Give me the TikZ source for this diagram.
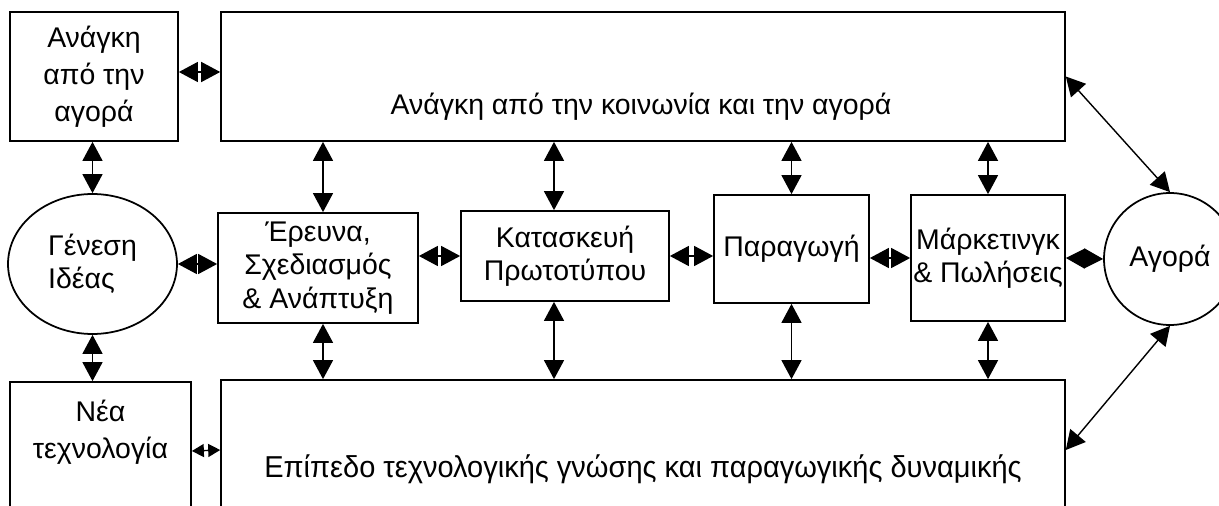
\documentclass[tikz,border=0pt]{standalone}
\usepackage{fontspec}
\setmainfont{Liberation Sans}
\newfontfamily\narrowfont{Liberation Sans}[FakeStretch=0.96]
\usetikzlibrary{shapes,arrows.meta,positioning}
\tikzset{box/.style={draw,line width=1pt,align=center,inner sep=0pt},
	oval/.style={draw,ellipse,line width=1pt,inner sep=0pt},
	>={Triangle[length=0.38cm,width=0.4cm]}}

\begin{document}
\begin{tikzpicture}[x=0.02cm,y=-0.02cm,font=\fontsize{16.2}{19}\selectfont,line width=0.8pt]
	\useasboundingbox (0,0) rectangle (1219,506);
	\clip (0,0) rectangle (1219,506);
	\node[box,minimum width=3.36cm,minimum height=2.58cm,font=\fontsize{16.2}{21}\selectfont] (1) at (94,76.5) {Ανάγκη\\από την\\αγορά};
	\node[box,minimum width=16.88cm,minimum height=2.58cm] (2) at (643,76.5) {};
	\node (2t) at (641,107) {Ανάγκη από την κοινωνία και την αγορά};
	\node[oval,minimum width=3.38cm,minimum height=2.8cm,align=left] (3) at (92.5,264) {Γένεση\\Ιδέας};
	\node[box,minimum width=4cm,minimum height=2.2cm] (4) at (318,268) {Έρευνα,\\Σχεδιασμός\\\& Ανάπτυξη};
	\node[box,minimum width=4.16cm,minimum height=1.8cm] (5) at (565,256) {Κατασκευή\\Πρωτοτύπου};
	\node[box,minimum width=3.1cm,minimum height=2.16cm] (6) at (791.5,249) {Παραγωγή};
	\node[box,minimum width=3.08cm,minimum height=2.52cm] (7) at (988,258) {Μάρκετινγκ\\\& Πωλήσεις};
	\node[draw,circle,line width=1pt,minimum size=2.64cm,inner sep=0pt] (8) at (1170,259) {Αγορά};
	\node[box,minimum width=3.62cm,minimum height=2.76cm] (9) at (100.5,451) {};
	\node[font=\fontsize{16.2}{21}\selectfont,align=center] (9t) at (100.5,432) {Νέα\\τεχνολογία};
	\node[box,minimum width=16.88cm,minimum height=2.8cm] (10) at (643,450) {};
	\node[font=\narrowfont\fontsize{17.2}{19}\selectfont] (10t) at (643,469) {Επίπεδο τεχνολογικής γνώσης και παραγωγικής δυναμικής};
	\draw[<->] ([yshift=0.09cm]1.east) -- ([yshift=0.09cm]2.west);
	\draw[<->] (1.south -| 3.north) -- (3.north);
	\draw[<->] (3.south) -- (3.south |- 9.north);
	\draw[<->] (3.east) -- (3.east -| 4.west);
	\draw[<->] (4.east |- 5.west) -- (5.west);
	\draw[<->] (5.east) -- (5.east -| 6.west);
	\draw[<->] (6.east |- 7.west) -- (7.west);
	\draw[<->] (7.east) -- (8.west);
	\draw[<->] ([xshift=0.1cm]4.north |- 2.south) -- ([xshift=0.1cm]4.north);
	\draw[<->] ([xshift=0.1cm]4.south) -- ([xshift=0.1cm]4.south |- 10.north);
	\draw[<->] ([xshift=-0.22cm]5.north |- 2.south) -- ([xshift=-0.22cm]5.north);
	\draw[<->] ([xshift=-0.22cm]5.south) -- ([xshift=-0.22cm]5.south |- 10.north);
	\draw[<->] (6.north |- 2.south) -- (6.north);
	\draw[<->] (6.south) -- (6.south |- 10.north);
	\draw[<->] (7.north |- 2.south) -- (7.north);
	\draw[<->] (7.south) -- (7.south |- 10.north);
	\draw[<->] (2.east) -- (8.north);
	\draw[<->] (8.south) -- (10.east);
	\draw[<->,>={Triangle[length=0.24cm,width=0.26cm]}] (9.east) -- (10.west);
\end{tikzpicture}
\end{document}
